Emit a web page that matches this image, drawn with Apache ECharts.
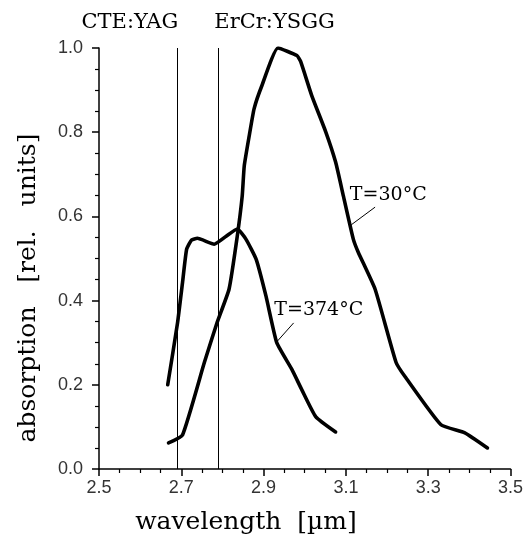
<!DOCTYPE html>
<html>
<head>
<meta charset="utf-8">
<script src="https://cdn.jsdelivr.net/npm/echarts@6/dist/echarts.min.js"></script>
<style>
html,body{margin:0;padding:0;background:#fff;}
#chart{width:526px;height:536px;}
</style>
</head>
<body>
<div id="chart"></div>
<script>
// Data (wavelength in µm, absorption in rel. units)
var xTickLabels = ['2.5','2.7','2.9','3.1','3.3','3.5'];
var yTickLabels = ['0.0','0.2','0.4','0.6','0.8','1.0'];

var wl30 = [2.669,2.703,2.756,2.787,2.816,2.836,2.848,2.853,2.865,2.877,2.896,2.935,2.981,2.990,3.017,3.051,3.075,3.094,3.118,3.130,3.171,3.222,3.244,3.331,3.389,3.444];
var abs30 = [0.062,0.081,0.253,0.348,0.427,0.553,0.648,0.720,0.791,0.856,0.911,1.000,0.982,0.968,0.887,0.801,0.729,0.648,0.546,0.515,0.427,0.253,0.219,0.105,0.086,0.050];

var wl374 = [2.667,2.691,2.703,2.713,2.725,2.739,2.780,2.809,2.836,2.857,2.882,2.906,2.932,2.969,2.993,3.027,3.075];
var abs374 = [0.200,0.348,0.443,0.522,0.544,0.548,0.534,0.553,0.570,0.546,0.498,0.410,0.300,0.236,0.188,0.124,0.088];

var laserNames = ['CTE:YAG','ErCr:YSGG'];
var laserWl = [2.69, 2.79];

var seriesLabels = ['T=30°C','T=374°C'];
var labelPos = [[3.203,0.651],[3.034,0.378]];
var leaderFrom = [[3.171,0.622],[2.973,0.347]];
var leaderTo = [[3.113,0.580],[2.932,0.302]];

function pairs(xs, ys){ return xs.map(function(x,i){ return [x, ys[i]]; }); }

var chart = echarts.init(document.getElementById('chart'), null, {renderer:'canvas'});

var tickFont = {fontFamily:'Liberation Sans', fontSize:18, color:'#333'};

var option = {
  animation:false,
  backgroundColor:'#fff',
  grid:{left:99, right:13, top:48, bottom:67, containLabel:false},
  xAxis:{
    type:'value', min:2.5, max:3.5, interval:0.2,
    axisLine:{show:true, onZero:false, lineStyle:{color:'#000', width:1.5}},
    axisTick:{show:true, inside:false, length:7, lineStyle:{color:'#000', width:1.5}},
    minorTick:{show:true, splitNumber:4, length:4, lineStyle:{color:'#000', width:1.2}},
    splitLine:{show:false},
    axisLabel:Object.assign({margin:10, formatter:function(v){ return v.toFixed(1); }}, tickFont)
  },
  yAxis:{
    type:'value', min:0, max:1.0, interval:0.2,
    axisLine:{show:true, onZero:false, lineStyle:{color:'#000', width:1.5}},
    axisTick:{show:true, inside:false, length:7, lineStyle:{color:'#000', width:1.5}},
    minorTick:{show:true, splitNumber:4, length:4, lineStyle:{color:'#000', width:1.2}},
    splitLine:{show:false},
    axisLabel:Object.assign({margin:16, formatter:function(v){ return v.toFixed(1); }}, tickFont)
  },
  series:[
    {
      type:'line', name:seriesLabels[0], data:pairs(wl30, abs30),
      showSymbol:false, smooth:0.15,
      lineStyle:{color:'#000', width:3.6, join:'round', cap:'round'}, z:3,
      markLine:{
        silent:true, symbol:['none','none'], label:{show:false},
        lineStyle:{color:'#000', width:1, type:'solid'},
        data:[
          [{coord:[laserWl[0],0]},{coord:[laserWl[0],1.0]}],
          [{coord:[laserWl[1],0]},{coord:[laserWl[1],1.0]}],
          [{coord:leaderFrom[0]},{coord:leaderTo[0]}]
        ]
      }
    },
    {
      type:'line', name:seriesLabels[1], data:pairs(wl374, abs374),
      showSymbol:false, smooth:0.15,
      lineStyle:{color:'#000', width:3.6, join:'round', cap:'round'}, z:3,
      markLine:{
        silent:true, symbol:['none','none'], label:{show:false},
        lineStyle:{color:'#000', width:1, type:'solid'},
        data:[
          [{coord:leaderFrom[1]},{coord:leaderTo[1]}]
        ]
      }
    }
  ]
};
chart.setOption(option);

var serif = 'DejaVu Serif';
var g = [];
var p0 = chart.convertToPixel({gridIndex:0}, labelPos[0]);
var p1 = chart.convertToPixel({gridIndex:0}, labelPos[1]);
g.push({type:'text', x:p0[0], y:p0[1], style:{text:seriesLabels[0], font:'19px "'+serif+'"', fill:'#000', align:'center', verticalAlign:'middle'}});
g.push({type:'text', x:p1[0], y:p1[1], style:{text:seriesLabels[1], font:'19px "'+serif+'"', fill:'#000', align:'center', verticalAlign:'middle'}});
var l0 = chart.convertToPixel({gridIndex:0}, [laserWl[0], 1.0]);
var l1 = chart.convertToPixel({gridIndex:0}, [laserWl[1], 1.0]);
g.push({type:'text', x:l0[0]+1, y:23, style:{text:laserNames[0], font:'21px "'+serif+'"', fill:'#000', align:'right', verticalAlign:'middle'}});
g.push({type:'text', x:l1[0]-4, y:23, style:{text:laserNames[1], font:'21px "'+serif+'"', fill:'#000', align:'left', verticalAlign:'middle'}});
// axis titles
g.push({type:'text', x:246, y:522, style:{text:'wavelength  [µm]', font:'25px "'+serif+'"', fill:'#000', align:'center', verticalAlign:'middle'}});
g.push({type:'text', x:28, y:288, rotation:Math.PI/2, style:{text:'absorption   [rel.   units]', font:'25px "'+serif+'"', fill:'#000', align:'center', verticalAlign:'middle'}});
chart.setOption({graphic:g});
</script>
</body>
</html>
